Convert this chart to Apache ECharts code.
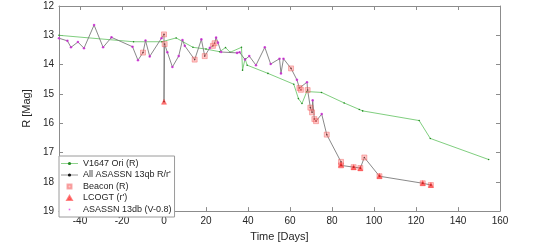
<!DOCTYPE html>
<html><head><meta charset="utf-8">
<script src="https://cdn.jsdelivr.net/npm/echarts@6/dist/echarts.min.js"></script>
<style>html,body{margin:0;padding:0;background:#fff}#c{width:538px;height:247px}</style>
</head><body><div id="c"></div>
<script>
// ---- data ----
const xTicks = [-40, -20, 0, 20, 40, 60, 80, 100, 120, 140, 160];
const yTicks = [12, 13, 14, 15, 16, 17, 18, 19];

const greenDays = [-50, -14.5, -1, 5.8, 13.8, 20, 26.5, 29.3, 31.5, 36.9, 37.4, 38.6, 39.6, 49.5, 61.8, 64, 65.7, 68, 75, 85.8, 93, 94.6, 121.5, 126.8, 154.6];
const greenMag  = [13.0, 13.22, 13.22, 13.09, 13.41, 13.47, 13.56, 13.42, 13.58, 13.41, 14.19, 13.8, 14.02, 14.3, 14.67, 15.16, 15.33, 14.92, 14.95, 15.31, 15.53, 15.58, 15.91, 16.52, 17.24];

const beaconDays = [-10, 0, 0.3, 14.6, 19.4, 23.3, 24.1, 60.5, 64.5, 65.2, 68.4, 69.7, 70.5, 71.6, 72.4, 77.5, 84.3, 84.3, 90.3, 93.5, 95.4, 102.6, 123.2, 127.1];
const beaconMag  = [13.59, 12.97, 13.3, 13.83, 13.71, 13.36, 13.27, 14.13, 14.8, 14.86, 14.87, 15.47, 15.63, 15.86, 15.93, 16.39, 17.32, 17.44, 17.5, 17.53, 17.17, 17.81, 18.05, 18.11];

const lcogtDays = [0, 84.3, 90.3, 93.5, 102.6, 123.2, 127.1];
const lcogtMag  = [15.27, 17.42, 17.5, 17.54, 17.8, 18.04, 18.11];

const asassnDays = [-50, -46, -44.3, -41, -38.1, -33.3, -29, -25, -15, -12.4, -8.8, -6.8, -1.2, 1.6, 4, 7, 8.8, 9.9, 17.8, 21.8, 24.8, 25.7, 27.2, 34.8, 36, 38.6, 40.6, 43.8, 48, 50.8, 55, 55.7, 56.9, 63.3, 68.1, 70.8, 75.1];
const asassnMag  = [13.1, 13.19, 13.41, 13.23, 13.44, 12.65, 13.41, 13.07, 13.39, 13.85, 13.18, 13.72, 13.1, 13.58, 14.08, 13.71, 13.16, 13.36, 13.14, 13.43, 13.08, 13.25, 13.57, 13.6, 13.58, 13.83, 13.71, 14.02, 13.41, 13.98, 13.8, 14.3, 13.8, 14.52, 14.6, 15.22, 15.69];

// ---- build ----
const zip = (a, b) => a.map((d, i) => [d, b[i]]);
const allPts = zip(beaconDays, beaconMag).concat(zip(lcogtDays, lcogtMag), zip(asassnDays, asassnMag));
allPts.sort((a, b) => a[0] - b[0]);

const FONT = 'Liberation Sans';
const frame = '#8c8c8c';
const txt = '#262626';
// legend icons padded to the 17x4 legend box (moveTo points set the bounds)
const ICON_SQ = 'path://M0,0M17,4M6.5,0H10.5V4H6.5Z';
const ICON_TRI = 'path://M0,0M17,4M8.5,0L10.8,4L6.2,4Z';
const ICON_DOT = 'path://M0,0M17,4M7.7,1.2H9.3V2.8H7.7Z';

const chart = echarts.init(document.getElementById('c'), null, {renderer: 'canvas'});
chart.setOption({
  animation: false,
  backgroundColor: '#fff',
  textStyle: {fontFamily: FONT},
  grid: {left: 59, right: 38, top: 6, bottom: 31, containLabel: false},
  legend: {
    orient: 'vertical', left: 59, top: 156,
    backgroundColor: '#fff', borderColor: '#9a9a9a', borderWidth: 1,
    padding: [3, 3, 3, 1], itemGap: 2.5, itemWidth: 17, itemHeight: 4,
    lineStyle: {width: 0.8},
    textStyle: {fontFamily: FONT, fontSize: 9, color: txt, lineHeight: 9},
    data: [
      {name: 'V1647 Ori (R)'},
      {name: 'All ASASSN 13qb R/r\''},
      {name: 'Beacon (R)', icon: ICON_SQ},
      {name: 'LCOGT (r\')', icon: ICON_TRI},
      {name: 'ASASSN 13db (V-0.8)', icon: ICON_DOT}
    ]
  },
  xAxis: [{
    type: 'value', min: -50, max: 160, position: 'bottom',
    name: 'Time [Days]', nameLocation: 'middle', nameGap: 19,
    nameTextStyle: {fontFamily: FONT, fontSize: 11, color: txt},
    axisLine: {show: true, onZero: false, lineStyle: {color: frame, width: 1}},
    axisTick: {show: true, inside: true, length: 4, customValues: xTicks, lineStyle: {color: frame}},
    axisLabel: {fontFamily: FONT, fontSize: 10, color: txt, margin: 5, customValues: xTicks},
    splitLine: {show: false}
  }, {
    type: 'value', min: -50, max: 160, position: 'top',
    axisLine: {show: true, onZero: false, lineStyle: {color: frame, width: 1}},
    axisTick: {show: true, inside: true, length: 4, customValues: xTicks, lineStyle: {color: frame}},
    axisLabel: {show: false}, splitLine: {show: false}
  }],
  yAxis: [{
    type: 'value', min: 12, max: 19, interval: 1, inverse: true, position: 'left',
    name: 'R [Mag]', nameLocation: 'middle', nameGap: 18,
    nameTextStyle: {fontFamily: FONT, fontSize: 11, color: txt},
    axisLine: {show: true, onZero: false, lineStyle: {color: frame, width: 1}},
    axisTick: {show: true, inside: true, length: 4, lineStyle: {color: frame}},
    axisLabel: {fontFamily: FONT, fontSize: 10, color: txt, margin: 5, customValues: yTicks},
    splitLine: {show: false}
  }, {
    type: 'value', min: 12, max: 19, interval: 1, inverse: true, position: 'right',
    axisLine: {show: true, onZero: false, lineStyle: {color: frame, width: 1}},
    axisTick: {show: true, inside: true, length: 4, lineStyle: {color: frame}},
    axisLabel: {show: false}, splitLine: {show: false}
  }],
  series: [{
    name: 'V1647 Ori (R)', type: 'line', data: zip(greenDays, greenMag), z: 2,
    symbol: 'circle', symbolSize: 1.6, showSymbol: true,
    lineStyle: {color: '#72c870', width: 0.9},
    itemStyle: {color: '#1f8a1f'}
  }, {
    name: 'All ASASSN 13qb R/r\'', type: 'line', data: allPts, z: 3,
    symbol: 'circle', symbolSize: 1.6, showSymbol: true,
    lineStyle: {color: '#7c7c7c', width: 0.9},
    itemStyle: {color: '#111'}
  }, {
    name: 'Beacon (R)', type: 'scatter', data: zip(beaconDays, beaconMag), z: 4,
    symbol: 'rect', symbolSize: 5,
    itemStyle: {color: 'rgba(255,120,120,0.5)', borderColor: 'rgba(240,80,80,0.6)', borderWidth: 0.8}
  }, {
    name: 'LCOGT (r\')', type: 'scatter', data: zip(lcogtDays, lcogtMag), z: 5,
    symbol: 'triangle', symbolSize: 5,
    itemStyle: {color: 'rgba(255,20,20,0.7)', borderColor: 'rgba(255,60,60,0.8)', borderWidth: 0.6}
  }, {
    name: 'ASASSN 13db (V-0.8)', type: 'scatter', data: zip(asassnDays, asassnMag), z: 6,
    symbol: 'circle', symbolSize: 2.6,
    itemStyle: {color: '#e03ce8'}
  }]
});
</script>
</body></html>
